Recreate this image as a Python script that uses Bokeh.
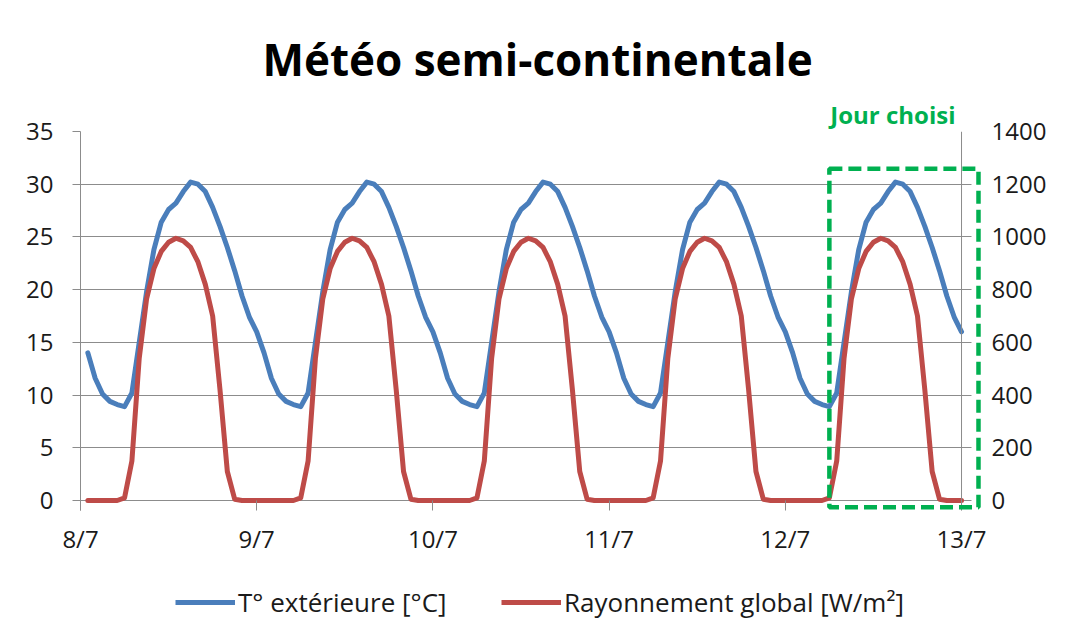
from bokeh.plotting import figure
from bokeh.layouts import column
from bokeh.models import (Range1d, LinearAxis, FixedTicker, BoxAnnotation, Span, Title,
                          Legend, LegendItem, ColumnDataSource)
from bokeh.embed import file_html
from bokeh.resources import INLINE

# ---------------- data ----------------
title_text = "Météo semi-continentale"
day_labels = ["8/7", "9/7", "10/7", "11/7", "12/7", "13/7"]
day_ticks = [0, 24, 48, 72, 96, 120]          # hours since 8/7 00:00
hours = list(range(1, 121))                    # hourly samples 8/7 01:00 .. 13/7 00:00

temperature = [
    14.0, 11.6, 10.1, 9.4, 9.1, 8.9, 10.2, 15.0, 19.8, 23.8, 26.4, 27.6,
    28.2, 29.3, 30.2, 30.0, 29.3, 27.8, 26.0, 24.0, 21.8, 19.4, 17.4, 16.0,
    14.0, 11.6, 10.1, 9.4, 9.1, 8.9, 10.2, 15.0, 19.8, 23.8, 26.4, 27.6,
    28.2, 29.3, 30.2, 30.0, 29.3, 27.8, 26.0, 24.0, 21.8, 19.4, 17.4, 16.0,
    14.0, 11.6, 10.1, 9.4, 9.1, 8.9, 10.2, 15.0, 19.8, 23.8, 26.4, 27.6,
    28.2, 29.3, 30.2, 30.0, 29.3, 27.8, 26.0, 24.0, 21.8, 19.4, 17.4, 16.0,
    14.0, 11.6, 10.1, 9.4, 9.1, 8.9, 10.2, 15.0, 19.8, 23.8, 26.4, 27.6,
    28.2, 29.3, 30.2, 30.0, 29.3, 27.8, 26.0, 24.0, 21.8, 19.4, 17.4, 16.0,
    14.0, 11.6, 10.1, 9.4, 9.1, 8.9, 10.2, 15.0, 19.8, 23.8, 26.4, 27.6,
    28.2, 29.3, 30.2, 30.0, 29.3, 27.8, 26.0, 24.0, 21.8, 19.4, 17.4, 16.0,
]
radiation = [
    0, 0, 0, 0, 0, 10, 150, 540, 765, 880, 945, 980,
    995, 985, 960, 905, 820, 700, 420, 110, 5, 0, 0, 0,
    0, 0, 0, 0, 0, 10, 150, 540, 765, 880, 945, 980,
    995, 985, 960, 905, 820, 700, 420, 110, 5, 0, 0, 0,
    0, 0, 0, 0, 0, 10, 150, 540, 765, 880, 945, 980,
    995, 985, 960, 905, 820, 700, 420, 110, 5, 0, 0, 0,
    0, 0, 0, 0, 0, 10, 150, 540, 765, 880, 945, 980,
    995, 985, 960, 905, 820, 700, 420, 110, 5, 0, 0, 0,
    0, 0, 0, 0, 0, 10, 150, 540, 765, 880, 945, 980,
    995, 985, 960, 905, 820, 700, 420, 110, 5, 0, 0, 0,
]
temp_ticks = [0, 5, 10, 15, 20, 25, 30, 35]
rad_ticks = [0, 200, 400, 600, 800, 1000, 1200, 1400]
series_names = ["T° extérieure [°C]", "Rayonnement global [W/m²]"]
highlight_label = "Jour choisi"

# ---------------- styling / layout ----------------
FONT = "Open Sans"
GRID = "#8c8c8c"
BLUE = "#4A7EBB"
RED = "#BE4B48"
GREEN = "#00B050"
TXT = "#1a1a1a"

W = 1049
H_MAIN = 566
H_LEG = 62
X_END = 122.72          # frame extends a little past 13/7 so the green frame fits
Y_START = -0.95         # frame extends a little below 0 (tick marks / green frame)
RAD_PER_DEG = 1400 / 35

p = figure(width=W, height=H_MAIN, output_backend="svg", toolbar_location=None,
           x_range=Range1d(0, X_END), y_range=Range1d(Y_START, 35),
           min_border_left=80, min_border_right=66, min_border_top=131,
           min_border_bottom=H_MAIN - 510)
p.extra_y_ranges = {"rad": Range1d(Y_START * RAD_PER_DEG, 1400)}
p.outline_line_color = None
p.background_fill_color = "white"
p.border_fill_color = "white"

p.title.text = title_text
p.title.text_font = FONT
p.title.text_font_style = "bold"
p.title.text_font_size = "44px"
p.title.text_color = "black"
p.title.align = "left"
p.title.offset = 182
p.title.standoff = 14

jt = Title(text=highlight_label, align="right", offset=26, text_font=FONT,
           text_font_style="bold", text_font_size="24px", text_color=GREEN, standoff=1)
p.add_layout(jt, "above")

src = ColumnDataSource(dict(h=hours, t=temperature, r=radiation))
rt = p.line("h", "t", source=src, line_color=BLUE, line_width=5, line_join="round",
            line_cap="round")
rr = p.line("h", "r", source=src, line_color=RED, line_width=5, line_join="round",
            line_cap="round", y_range_name="rad")

# x axis: ticks drawn upward from frame bottom to the 0 line
xa = p.xaxis[0]
xa.ticker = FixedTicker(ticks=day_ticks)
xa.major_label_overrides = {t: l for t, l in zip(day_ticks, day_labels)}
xa.minor_tick_line_color = None
xa.major_tick_in = 10
xa.major_tick_out = 0
xa.axis_line_color = None
xa.major_tick_line_color = GRID
xa.major_label_text_font = FONT
xa.major_label_text_font_size = "24px"
xa.major_label_text_color = TXT
xa.major_label_standoff = 11

# left axis
ya = p.yaxis[0]
ya.ticker = FixedTicker(ticks=temp_ticks)
ya.minor_tick_line_color = None
ya.major_tick_in = 0
ya.major_tick_out = 8
ya.axis_line_color = GRID
ya.major_tick_line_color = GRID
ya.major_label_text_font = FONT
ya.major_label_text_font_size = "24px"
ya.major_label_text_color = TXT
ya.major_label_standoff = 19

# right axis (labels only; its line is drawn at 13/7)
ra = LinearAxis(y_range_name="rad", ticker=FixedTicker(ticks=rad_ticks))
ra.minor_tick_line_color = None
ra.major_tick_in = 0
ra.major_tick_out = 0
ra.axis_line_color = None
ra.major_tick_line_color = None
ra.major_label_text_font = FONT
ra.major_label_text_font_size = "24px"
ra.major_label_text_color = TXT
ra.major_label_standoff = 10
p.add_layout(ra, "right")
p.add_layout(Span(location=day_ticks[-1], dimension="height", line_color=GRID, line_width=1))

p.xgrid.visible = False
yg = p.ygrid[0]
yg.grid_line_color = GRID
yg.grid_line_width = 1
try:
    yg.cross_bounds = (0, 121.36)
except Exception:
    pass

# highlighted day
box = BoxAnnotation(left=102, right=122.31, bottom=-0.64, top=31.46,
                    fill_alpha=0, fill_color=None, line_color=GREEN, line_alpha=1,
                    line_width=4.5, line_dash="13 6")
p.add_layout(box)

# ---------------- legend strip (separate figure below the chart) ----------------
pl = figure(width=W, height=H_LEG, output_backend="svg", toolbar_location=None,
            x_range=Range1d(-10, -9), y_range=Range1d(-10, -9),
            x_axis_type=None, y_axis_type=None, min_border=0)
pl.outline_line_color = None
pl.background_fill_color = "white"
pl.border_fill_color = "white"
lt = pl.line("h", "t", source=src, line_color=BLUE, line_width=5)
lr = pl.line("h", "r", source=src, line_color=RED, line_width=5)
lg = Legend(items=[LegendItem(label=series_names[0], renderers=[lt]),
                   LegendItem(label=series_names[1], renderers=[lr])],
            location=(95, 8), orientation="horizontal", padding=0, margin=0,
            border_line_color=None, background_fill_alpha=0, glyph_width=60,
            glyph_height=20, label_height=20, label_width=263, spacing=0,
            label_standoff=3, label_text_font=FONT, label_text_font_size="26px",
            label_text_color=TXT)
pl.add_layout(lg)

layout = column(p, pl, spacing=0)
open("out.html", "w").write(file_html(layout, INLINE))
